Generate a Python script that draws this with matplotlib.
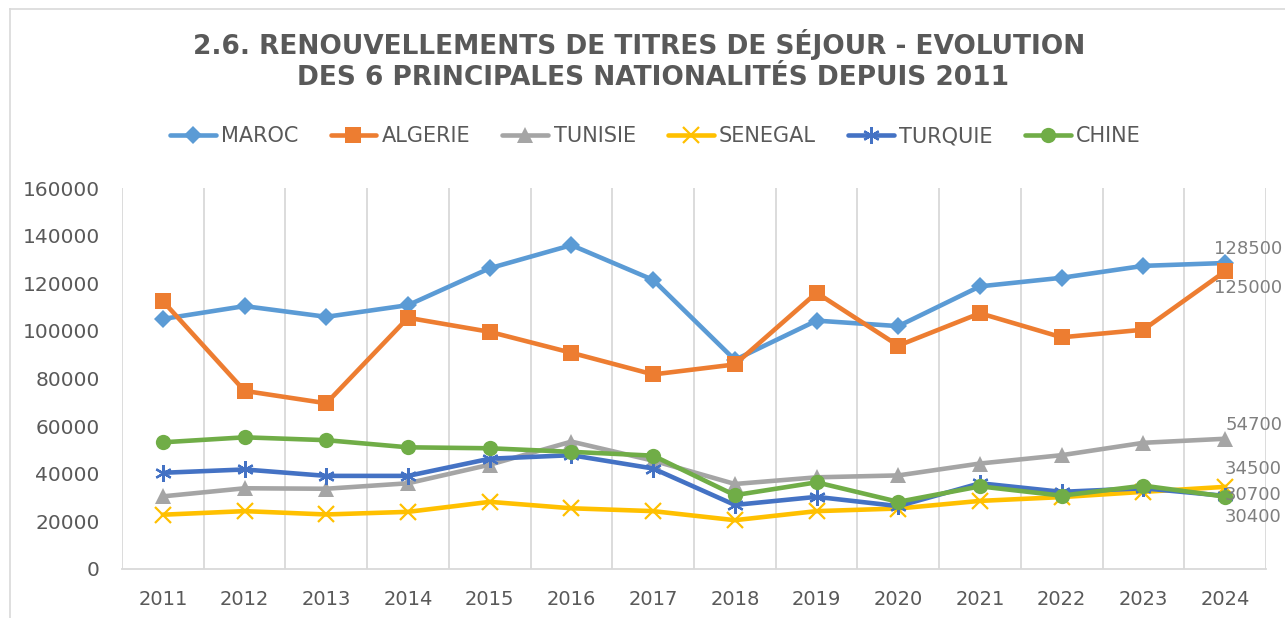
import numpy as np
import matplotlib
matplotlib.use('Agg')
import matplotlib.pyplot as plt
from matplotlib.lines import Line2D

years = ['2011', '2012', '2013', '2014', '2015', '2016', '2017',
         '2018', '2019', '2020', '2021', '2022', '2023', '2024']
maroc = [105000, 110400, 105900, 110800, 126300, 136000, 121400,
         87800, 104300, 102000, 118700, 122300, 127300, 128500]
algerie = [112500, 74800, 69600, 105500, 99600, 90800, 81700,
           85900, 116000, 93800, 107400, 97300, 100500, 125000]
tunisie = [30500, 33900, 33700, 36000, 43800, 53500, 45500,
           35700, 38500, 39300, 44300, 47800, 53000, 54700]
senegal = [22800, 24300, 22900, 24000, 28200, 25500, 24300,
           20500, 24300, 25400, 28600, 30200, 32400, 34500]
turquie = [40400, 41800, 39100, 39100, 46300, 47800, 42200,
           26900, 30300, 26400, 36000, 32400, 33900, 30700]
chine = [53200, 55300, 54100, 51100, 50700, 49200, 47600,
         31000, 36400, 28200, 34700, 30800, 35000, 30400]

names = ['MAROC', 'ALGERIE', 'TUNISIE', 'SENEGAL', 'TURQUIE', 'CHINE']
series = [maroc, algerie, tunisie, senegal, turquie, chine]
colors = ['#5B9BD5', '#ED7D31', '#A5A5A5', '#FFC000', '#4472C4', '#70AD47']
markers = ['D', 's', '^', 'x', (6, 2, 0), 'o']
msizes = [9, 11, 11, 11, 12, 11]
# offsets (points) for the end-of-line value labels
lbl_off = [(-8, 10), (-8, -12), (0, 10), (0, 13), (0, 1), (0, -15)]

plt.rcParams['font.family'] = ['DejaVu Sans']
txt = '#595959'

fig = plt.figure(figsize=(12.85, 6.18), dpi=100)
ax = fig.add_axes([122/1285, 1-569/618, (1266-122)/1285, (569-188)/618])

x = np.arange(len(years))
for name, vals, c, m, ms in zip(names, series, colors, markers, msizes):
    mew = 1.6 if m in ('x', (6, 2, 0)) else 0
    ax.plot(x, vals, color=c, lw=3.3, marker=m, markersize=ms,
            markeredgewidth=mew, markeredgecolor=c, markerfacecolor=c,
            label=name, solid_capstyle='round', solid_joinstyle='round')

for vals, off in zip(series, lbl_off):
    ax.annotate(str(vals[-1]), (x[-1], vals[-1]), xytext=off,
                textcoords='offset points', ha='left', va='center',
                fontsize=13, color='#7F7F7F', annotation_clip=False)

ax.set_xlim(-0.5, len(years) - 0.5)
ax.set_ylim(0, 160000)
ax.set_yticks(np.arange(0, 160001, 20000))
ax.set_yticklabels([str(v) for v in range(0, 160001, 20000)])
ax.set_xticks(x)
ax.set_xticklabels(years)
ax.set_xticks(np.arange(-0.5, len(years), 1), minor=True)
ax.grid(which='minor', axis='x', color='#D9D9D9', lw=1.3)
ax.tick_params(which='both', length=0)
ax.tick_params(axis='y', labelsize=14.5, labelcolor=txt, pad=16)
ax.tick_params(axis='x', labelsize=14, labelcolor=txt, pad=15)
for s in ['top', 'right', 'left']:
    ax.spines[s].set_visible(False)
ax.spines['bottom'].set_color('#D9D9D9')
ax.spines['bottom'].set_linewidth(1.3)

fig.text(0.497, 1-45/618, '2.6. RENOUVELLEMENTS DE TITRES DE SÉJOUR - EVOLUTION',
         ha='center', va='center', fontsize=19, fontweight='bold', color=txt)
fig.text(0.508, 1-78/618, 'DES 6 PRINCIPALES NATIONALITÉS DEPUIS 2011',
         ha='center', va='center', fontsize=19, fontweight='bold', color=txt)

fig.legend(loc='center', bbox_to_anchor=(0.51, 1-136/618), ncol=6,
           frameon=False, fontsize=15, labelcolor=txt, handlelength=2.2,
           handletextpad=0.25, columnspacing=1.55)

# chart frame (top and left edges visible in the crop)
fig.add_artist(Line2D([10/1285, 1], [1-9/618, 1-9/618], color='#D9D9D9',
                      lw=1.2, transform=fig.transFigure))
fig.add_artist(Line2D([10/1285, 10/1285], [0, 1-9/618], color='#D9D9D9',
                      lw=1.2, transform=fig.transFigure))

fig.savefig('out.png', dpi=100)
